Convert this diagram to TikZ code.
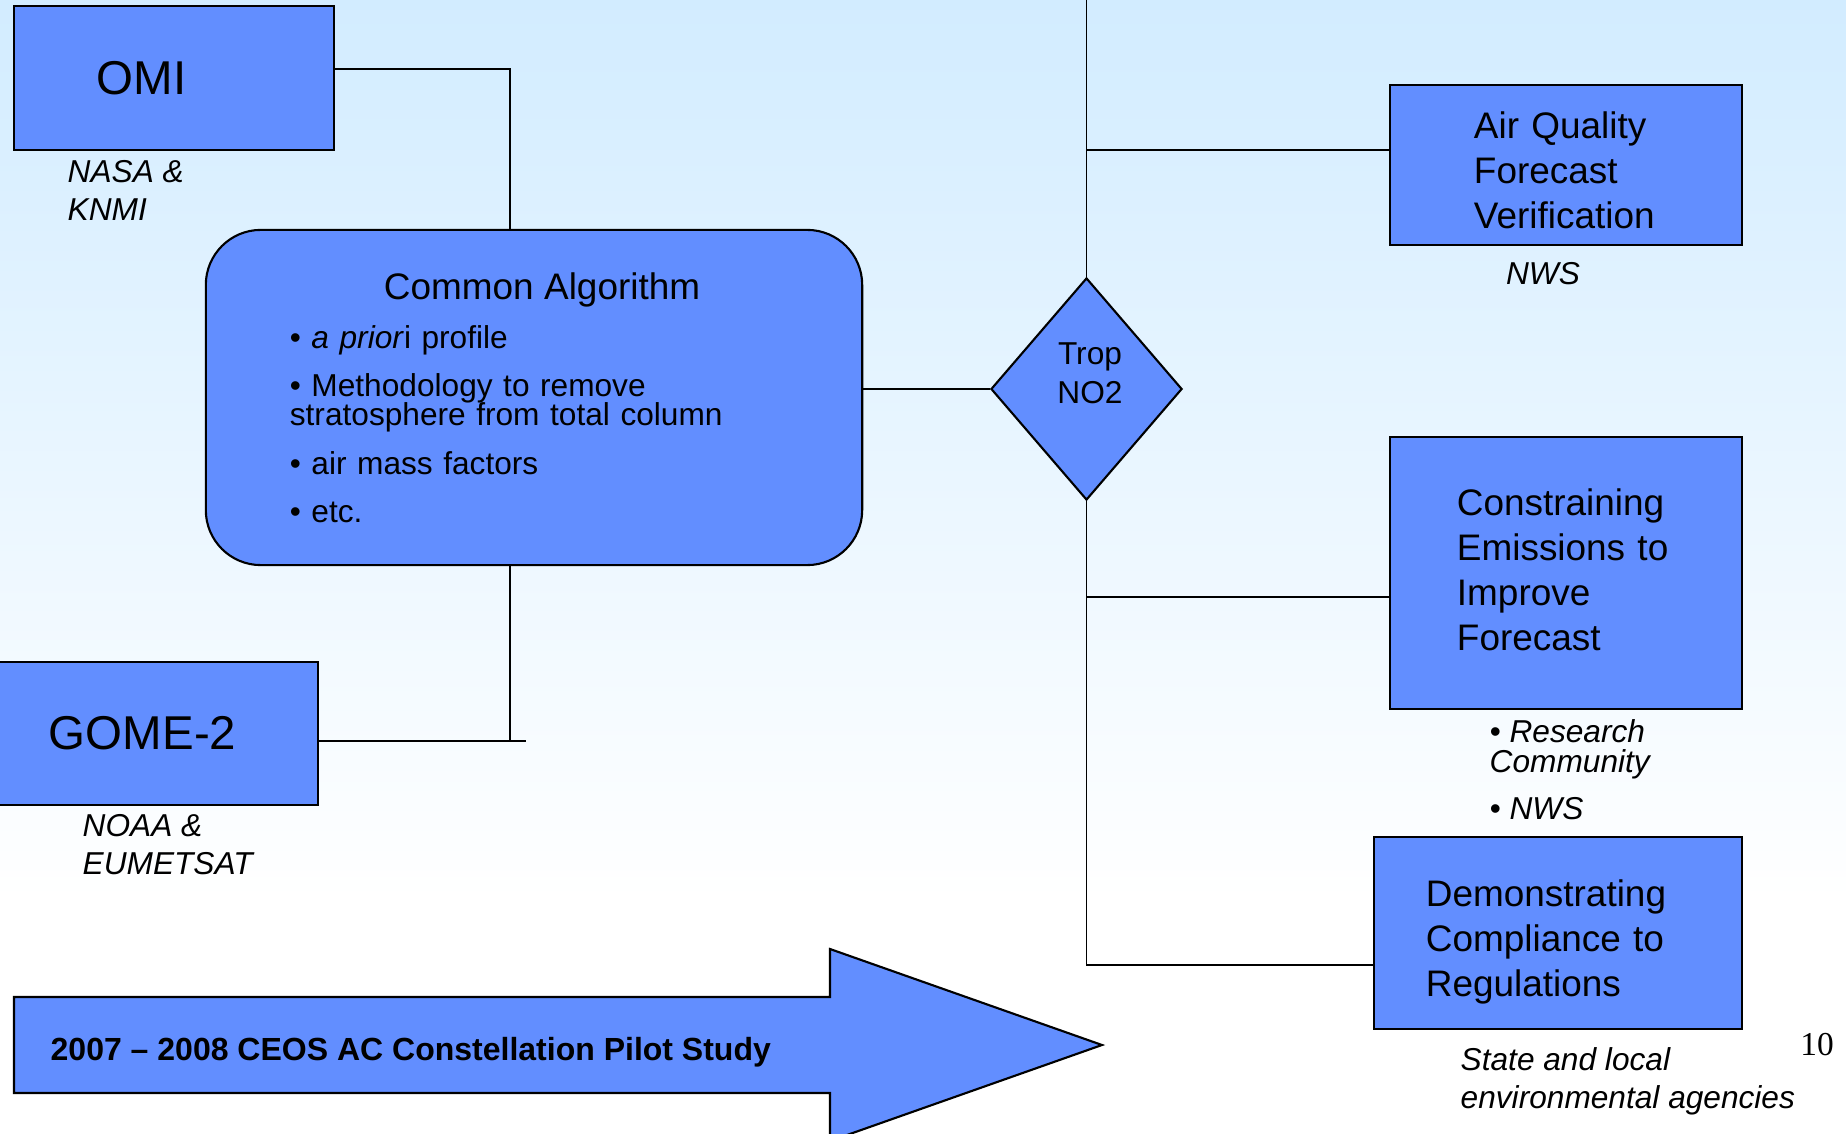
\documentclass[tikz,border=0pt]{standalone}
\usepackage{fontspec}
\setmainfont{Liberation Sans}
\newfontfamily\pagefont{Liberation Serif}
\usetikzlibrary{shapes.geometric}
\definecolor{skytop}{RGB}{210,236,255}
\definecolor{boxblue}{RGB}{98,142,255}
\newcommand\tightlines{\setlength{\lineskiplimit}{-20pt}}

\begin{document}
\begin{tikzpicture}[x=0.01cm, y=-0.01cm,
                box/.style = {draw, fill=boxblue, line width=0.6pt, inner sep=0pt, align=left, font=\fontsize{10.5}{12.8}\selectfont},
                sensor/.style = {box, font=\fontsize{13.5}{16}\selectfont},
                agency/.style = {inner sep=0pt, align=left, font=\fontsize{9}{10.8}\selectfont\itshape},
                wire/.style = {line width=0.5pt}]
                \useasboundingbox (0,0) rectangle (1846,1134);
                \shade[top color=skytop, bottom color=white] (0,0) rectangle (1846,900);
                \fill[white] (0,900) rectangle (1846,1134);

                \node[sensor, minimum width=3.2cm, minimum height=1.44cm, text width=1.54cm] (omi) at (174,78) {OMI};
                \node[sensor, minimum width=3.23cm, minimum height=1.43cm, text width=2.15cm] (gome) at (156.5,733.5) {GOME-2};
                \node[agency, anchor=west] (nasa) at (67,190) {NASA \&\\KNMI};
                \node[agency, anchor=west] (noaa) at (82,845) {NOAA \&\\EUMETSAT};

                \node[box, rounded corners=0.55cm, minimum width=6.56cm, minimum height=3.35cm, text width=4.88cm,
                      font=\fontsize{9}{8.25}\selectfont\tightlines] (alg) at (534,397.5)
                     {\makebox[4.88cm]{\hspace*{0.16cm}\fontsize{10.5}{12}\selectfont Common Algorithm}\\[0.205cm]
                      • \textit{a prior}i profile\\[0.19cm]
                      • Methodology to remove\\stratosphere from total column\\[0.19cm]
                      • air mass factors\\[0.19cm]
                      • etc.};

                \node[diamond, draw, fill=boxblue, line width=0.6pt, minimum width=1.91cm, minimum height=2.22cm, inner sep=0pt] (trop) at (1086.5,389) {};
                \node[align=center, inner sep=0pt, font=\fontsize{9}{11.1}\selectfont] (troptext) at (1090,373.5) {Trop\\NO2};

                \node[box, minimum width=3.52cm, minimum height=1.6cm, text width=1.84cm] (aq) at (1566,165) {\rule{0pt}{0.37cm}Air Quality\\Forecast\\Verification};
                \node[box, minimum width=3.52cm, minimum height=2.72cm, text width=2.18cm] (emis) at (1566,573) {Constraining\\Emissions to\\Improve\\Forecast\rule[-0.07cm]{0pt}{0.07cm}};
                \node[box, minimum width=3.68cm, minimum height=1.92cm, text width=2.64cm] (demo) at (1558,933) {\rule{0pt}{0.44cm}Demonstrating\\Compliance to\\Regulations};
                \node[agency] (nws) at (1543,274) {NWS};
                \node[agency, anchor=west, font=\fontsize{9}{8.5}\selectfont\itshape\tightlines] (users) at (1489,770) {• Research\\Community\\[0.17cm]• NWS};
                \node[agency, anchor=west] (states) at (1460,1081) {State and local\\environmental agencies};
                \node[inner sep=0pt, font=\pagefont\fontsize{9.5}{11}\selectfont] (pagenum) at (1817,1045) {10};

                \draw[fill=boxblue, line width=0.6pt] (14,997) -- (830,997) -- (830,949) -- (1102,1045) -- (830,1141) -- (830,1093) -- (14,1093) -- cycle;
                \node[anchor=west, inner sep=0pt, font=\fontsize{9.1}{11}\selectfont\bfseries] (pilot) at (50,1052) {2007 – 2008 CEOS AC Constellation Pilot Study};

                \coordinate (gend) at (526,741);
                \draw[wire] ([yshift=0.09cm]omi.east) -| ([xshift=-0.24cm]alg.north);
                \draw[wire] ([xshift=-0.24cm]alg.south) -- ([xshift=-0.24cm]alg.south |- gend);
                \draw[wire] (gome.east |- gend) -- (gend);
                \draw[wire] (alg.east |- trop.west) -- (trop.west);
                \draw[wire] (trop.north) -- (trop.north |- 0,-10);
                \draw[wire] ([yshift=0.15cm]aq.west) -| (trop.north);
                \draw[wire] ([yshift=-0.24cm]emis.west) -| (trop.south);
                \draw[wire] ([yshift=-0.32cm]demo.west) -| (trop.south);
            \end{tikzpicture}
\end{document}
